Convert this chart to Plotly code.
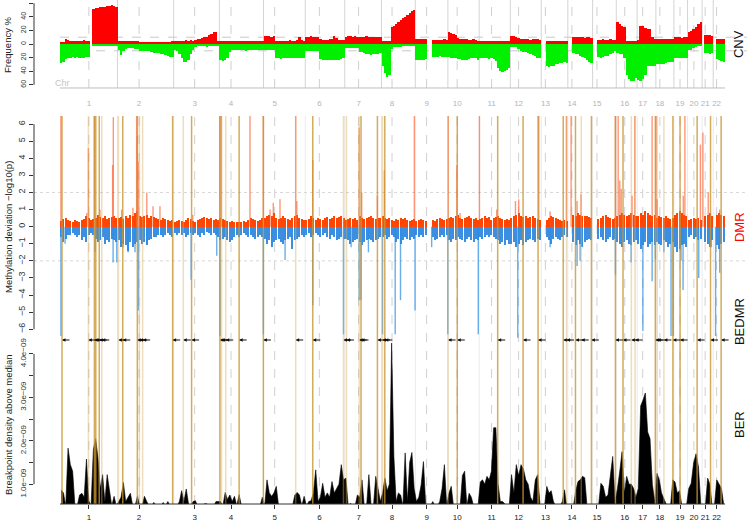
import plotly.graph_objects as go

chroms = [str(i) for i in range(1, 23)]
chrom_len = [249.25, 243.2, 198.0, 191.15, 180.9, 171.1, 159.1, 146.4, 141.2, 135.5, 135.0,
             133.9, 115.2, 107.3, 102.5, 90.4, 81.2, 78.1, 59.1, 63.0, 48.1, 51.3]
centromere = [125.0, 93.3, 91.0, 50.4, 48.4, 61.0, 59.9, 45.6, 49.0, 40.2, 53.7,
              35.8, 17.9, 17.6, 19.0, 36.6, 24.0, 17.2, 26.5, 27.5, 13.2, 14.7]

# CNV frequency (%) per ~10 Mb bin, one list per chromosome
cnv_gain = [
    [3, 3, 8, 6, 5, 5, 5, 4, 5, 5, 6, 5, 4, None, 52, 53, 53, 54, 55, 55, 56, 56, 57, 56, 55],
    [5, 5, 5, 5, 5, 4, 5, 5, 4, 3, 2, 2, 3, 2, 2, 3, 2, 3, 2, 2, 3, 3, 3, 4],
    [5, 5, 5, 4, 5, 6, 5, 6, 5, 6, 7, 8, 9, 10, 11, 13, 15, 17, 18, 5],
    [4, 4, 4, 4, 5, 4, 4, 4, 4, 4, 4, 4, 4, 4, 4, 4, 5, 4, 4],
    [12, 12, 12, 11, 12, 5, 5, 5, 5, 5, 5, 6, 5, 5, 6, 10, 6, 5],
    [11, 11, 12, 11, 10, 11, 8, 6, 6, 6, 7, 8, 12, 9, 6, 6, 6],
    [11, 12, 12, 11, 12, 11, 10, 11, 11, 12, 11, 11, 10, 11, 10, 10],
    [4, 4, 4, 4, 25, 27, 30, 33, 35, 38, 40, 43, 46, 48, 50],
    [7, 7, 7, 7, 7, None, None, 6, 6, 6, 6, 6, 7, 6],
    [17, 16, 15, 13, 9, 8, 7, 7, 7, 6, 6, 7, 6, 5],
    [4, 4, 4, 5, 5, 4, 5, 4, 5, 5, 5, 5, 5, 5],
    [12, 12, 11, 9, 7, 7, 7, 7, 6, 7, 7, 7, 6],
    [None, None, 4, 4, 4, 4, 4, 5, 4, 4, 4, 4],
    [None, None, 10, 10, 11, 10, 10, 9, 10, 10, 9],
    [None, None, 6, 6, 7, 6, 6, 7, 6, 6],
    [33, 30, 27, 25, 4, 4, 4, 4, 4],
    [6, 26, 26, 24, 22, 22, 10, 8],
    [8, 8, 8, 8, 8, 8, 7, 8],
    [10, 10, 10, 9, 10, 10],
    [17, 19, 22, 25, 29, 33],
    [None, 13, 13, 13, 12],
    [None, 8, 8, 8, 8],
]
cnv_loss = [
    [28, 27, 22, 20, 20, 19, 20, 19, 20, 21, 20, 19, 19, None, 2, 2, 2, 2, 2, 2, 2, 2, 2, 2, 2],
    [9, 16, 10, 7, 6, 6, 6, 7, 8, 10, 10, 10, 11, 10, 12, 13, 13, 13, 14, 15, 16, 18, 19, 19],
    [9, 10, 14, 20, 26, 27, 24, 15, 9, 4, 3, 3, 3, 3, 4, 3, 3, 3, 3, 3],
    [24, 25, 24, 20, 12, 9, 9, 9, 9, 9, 9, 10, 9, 9, 9, 9, 9, 9, 9],
    [9, 9, 9, 9, 9, 21, 21, 22, 21, 21, 21, 20, 21, 21, 21, 21, 21, 20],
    [11, 11, 11, 11, 11, 11, 22, 24, 24, 24, 24, 23, 24, 24, 23, 22, 20],
    [6, 6, 6, 6, 6, 6, 12, 12, 13, 14, 15, 16, 15, 14, 14, 13],
    [32, 42, 48, 45, 8, 4, 4, 4, 4, 3, 3, 3, 3, 3, 3],
    [24, 24, 23, 24, 22, None, None, 19, 19, 19, 18, 19, 19, 19],
    [19, 20, 20, 21, 22, 22, 23, 24, 23, 22, 21, 20, 20, 24],
    [20, 21, 21, 21, 22, 21, 22, 25, 35, 40, 41, 40, 38, 36],
    [4, 4, 5, 8, 11, 12, 12, 13, 14, 16, 18, 20, 21],
    [None, None, 33, 34, 33, 32, 30, 29, 28, 28, 27, 28],
    [None, None, 13, 14, 15, 17, 19, 21, 24, 26, 28],
    [None, None, 19, 20, 19, 18, 17, 15, 13, 11],
    [13, 14, 14, 20, 45, 52, 55, 54, 50],
    [53, 54, 52, 45, 33, 33, 32, 33],
    [30, 30, 29, 30, 28, 27, 26, 26],
    [21, 21, 21, 20, 21, 21],
    [9, 9, 6, 4, 3, 3],
    [None, 13, 13, 14, 13],
    [None, 22, 24, 25, 26],
]

# methylation deviation background level per bin (-log10 p)
dmr_hyper = [
    [0.35, 0.45, 0.5, 0.4, 0.35, 0.3, 0.4, 0.35, 0.3, 0.4, 0.45, 0.6, 0.5, 0.4, 0.45, 0.5, 0.7, 0.55, 0.5, 0.6, 0.45, 0.5, 0.55, 0.6, 0.5],
    [0.5, 0.55, 0.45, 0.6, 0.5, 0.7, 0.6, 0.8, 0.9, 0.6, 0.55, 0.6, 0.7, 0.5, 0.6, 0.55, 0.5, 0.45, 0.4, 0.5, 0.45, 0.4, 0.35, 0.4],
    [0.3, 0.35, 0.4, 0.35, 0.3, 0.4, 0.5, 0.45, 0.35, 0.3, 0.4, 0.45, 0.5, 0.55, 0.5, 0.45, 0.5, 0.4, 0.45, 0.4],
    [0.5, 0.45, 0.4, 0.35, 0.3, 0.35, 0.3, 0.25, 0.3, 0.3, 0.35, 0.3, 0.4, 0.5, 0.45, 0.4, 0.35, 0.4, 0.5],
    [0.5, 0.6, 0.7, 0.6, 0.8, 0.5, 0.45, 0.5, 0.6, 0.5, 0.45, 0.4, 0.5, 0.6, 0.7, 0.5, 0.45, 0.4],
    [0.4, 0.45, 0.6, 0.5, 0.4, 0.5, 0.45, 0.4, 0.5, 0.55, 0.45, 0.5, 0.6, 0.5, 0.55, 0.6, 0.5],
    [0.4, 0.45, 0.5, 0.45, 0.5, 0.4, 0.6, 0.5, 0.45, 0.5, 0.55, 0.6, 0.5, 0.45, 0.5, 0.5],
    [0.6, 0.5, 0.45, 0.5, 0.4, 0.35, 0.45, 0.4, 0.5, 0.45, 0.5, 0.4, 0.35, 0.4, 0.45],
    [0.35, 0.4, 0.45, 0.4, 0.35, None, None, 0.4, 0.35, 0.45, 0.5, 0.45, 0.4, 0.45],
    [0.5, 0.55, 0.5, 0.6, 0.7, 0.5, 0.45, 0.5, 0.55, 0.6, 0.5, 0.45, 0.5, 0.4],
    [0.45, 0.5, 0.6, 0.5, 0.55, 0.4, 0.5, 0.55, 0.6, 0.5, 0.45, 0.4, 0.45, 0.4],
    [0.5, 0.6, 0.7, 0.8, 0.6, 0.55, 0.6, 0.5, 0.55, 0.6, 0.5, 0.45, 0.4],
    [None, None, 0.4, 0.5, 0.6, 0.55, 0.5, 0.45, 0.4, 0.35, 0.4, 0.35],
    [None, None, 0.7, 0.6, 0.8, 0.7, 0.6, 0.65, 0.6, 0.55, 0.5],
    [None, None, 0.45, 0.5, 0.6, 0.7, 0.55, 0.5, 0.45, 0.5],
    [0.6, 0.7, 0.8, 0.7, 0.6, 0.7, 0.8, 0.7, 0.6],
    [0.6, 0.8, 0.7, 0.9, 0.8, 0.7, 0.6, 0.7],
    [0.5, 0.6, 0.55, 0.5, 0.6, 0.5, 0.45, 0.5],
    [0.7, 0.8, 0.9, 0.8, 0.7, 0.6],
    [0.4, 0.45, 0.5, 0.45, 0.5, 0.4],
    [None, 0.6, 0.7, 0.8, 0.6],
    [None, 0.7, 0.8, 0.7, 0.6],
]
dmr_hypo = [
    [-0.6, -0.9, -0.7, -0.5, -0.5, -0.4, -0.5, -0.6, -0.5, -0.8, -0.6, -0.9, -0.5, -0.4, -0.5, -0.7, -0.9, -0.8, -0.6, -1.0, -0.8, -0.9, -0.7, -0.8, -0.9],
    [-0.8, -1.2, -1.0, -1.1, -1.4, -0.9, -1.2, -1.0, -0.9, -0.8, -1.0, -0.9, -1.1, -0.8, -0.7, -0.6, -0.6, -0.5, -0.5, -0.6, -0.5, -0.4, -0.5, -0.6],
    [-0.4, -0.5, -0.4, -0.5, -0.4, -0.6, -0.5, -0.4, -0.5, -0.4, -0.5, -0.6, -0.4, -0.5, -0.3, -0.4, -0.5, -0.4, -0.5, -0.6],
    [-0.8, -0.7, -0.6, -0.8, -0.9, -0.8, -0.6, -0.5, -0.6, -0.5, -0.4, -0.5, -0.6, -0.5, -0.6, -0.7, -0.6, -0.5, -0.6],
    [-0.7, -1.0, -0.8, -1.2, -0.9, -0.8, -0.7, -0.9, -1.0, -0.8, -0.7, -0.6, -1.3, -0.8, -0.7, -0.6, -0.5, -0.6],
    [-0.5, -0.4, -0.6, -0.5, -0.4, -0.5, -0.6, -0.5, -0.4, -0.6, -0.7, -0.5, -0.6, -0.8, -0.7, -0.6, -0.7],
    [-0.7, -0.8, -1.0, -0.9, -0.8, -0.7, -0.9, -1.1, -0.9, -0.8, -0.7, -0.8, -0.9, -0.8, -0.7, -0.6],
    [-0.6, -0.5, -0.7, -0.6, -0.5, -0.6, -0.9, -0.7, -1.0, -0.8, -0.6, -0.7, -0.8, -0.6, -0.7],
    [-0.5, -0.6, -0.5, -0.6, -0.5, None, None, -0.6, -0.8, -0.7, -0.6, -0.5, -0.6, -0.5],
    [-0.8, -0.9, -0.7, -0.8, -0.6, -0.7, -0.8, -0.9, -0.7, -0.6, -0.8, -0.9, -0.7, -0.8],
    [-0.6, -0.7, -0.6, -0.5, -0.6, -0.5, -0.6, -0.7, -0.8, -1.0, -0.9, -1.1, -0.8, -1.0],
    [-1.0, -0.9, -1.2, -1.0, -0.8, -1.1, -0.9, -0.8, -0.7, -0.8, -0.9, -0.7, -0.8],
    [None, None, -0.6, -0.8, -1.0, -0.7, -0.6, -0.7, -0.8, -0.6, -0.5, -0.6],
    [None, None, -0.9, -1.1, -0.8, -1.0, -1.2, -0.9, -0.8, -0.7, -0.8],
    [None, None, -0.7, -0.6, -0.8, -0.9, -0.7, -0.6, -0.8, -0.7],
    [-0.9, -1.0, -1.2, -0.9, -0.8, -1.0, -1.1, -0.9, -0.8],
    [-1.0, -1.3, -1.1, -0.9, -1.2, -1.0, -0.9, -1.1],
    [-0.9, -1.0, -1.1, -0.8, -0.9, -1.2, -1.0, -0.9],
    [-1.2, -1.5, -1.3, -1.1, -1.0, -1.2],
    [-0.6, -0.5, -0.7, -0.6, -0.8, -0.7],
    [None, -0.9, -1.0, -1.2, -0.8],
    [None, -1.1, -1.3, -1.0, -0.9],
]

# single strong DMR probes: genome position (Mb) and -log10 p
hyper_pos = [4, 116, 123, 149, 173, 228, 231, 267, 316, 332, 335, 339, 376, 403, 433, 575, 693, 699,
             823, 881, 910, 924, 953, 1021, 1026, 1095, 1296, 1307, 1375, 1405, 1535, 1682, 1719, 1733,
             1817, 1892, 1973, 1987, 2074, 2123, 2194, 2214, 2240, 2257, 2406, 2418, 2425, 2431, 2478,
             2490, 2565, 2582, 2587, 2700, 2707, 2774, 2785, 2808, 2858]
hyper_val = [6.5, 0.8, 4.6, 6.5, 1.0, 3.6, 6.4, 1.0, 1.1, 6.5, 5.3, 3.8, 2.0, 1.2, 1.2, 0.7, 6.5, 6.5,
             6.5, 6.5, 1.0, 1.4, 1.6, 6.5, 1.5, 3.9, 5.8, 2.0, 1.8, 3.3, 6.5, 6.5, 3.6, 0.8,
             6.5, 1.0, 1.5, 1.6, 6.5, 0.9, 6.5, 6.5, 1.5, 1.9, 6.5, 6.5, 2.7, 2.2, 1.8,
             6.5, 6.5, 6.5, 1.6, 1.8, 6.5, 4.8, 5.5, 2.0, 1.0]
hypo_pos = [4, 22, 152, 230, 246, 273, 295, 325, 339, 376, 568, 679, 693, 881, 917, 975, 1095, 1228,
            1261, 1296, 1304, 1336, 1397, 1452, 1475, 1538, 1610, 1680, 1812, 1983, 2006, 2123, 2240,
            2253, 2406, 2474, 2525, 2565, 2579, 2616, 2647, 2656, 2690, 2699, 2767, 2821, 2840, 2858]
hypo_val = [-6.4, -1.0, -1.5, -2.1, -2.1, -1.2, -1.5, -1.5, -4.9, -1.0, -3.1, -1.7, -6.4, -6.3, -1.2, -1.95, -4.6, -6.3,
            -1.2, -4.3, -4.3, -1.5, -6.3, -6.3, -4.3, -4.9, -1.2, -6.3, -6.3, -6.5, -1.1, -1.2, -2.3,
            -2.0, -2.8, -2.1, -6.1, -3.2, -1.9, -1.5, -6.4, -6.4, -2.0, -3.7, -3.0, -1.2, -6.4, -2.7]

# breakpoint-enriched DMR regions (Mb) and whether the line is a strong one
bedmr_pos = [8.7, 123, 149, 155, 170, 181, 253, 272, 335, 344, 358, 488, 534, 570, 693, 700, 718, 776,
             881, 1021, 1095, 1228, 1241, 1296, 1304, 1375, 1397, 1407, 1681, 1721, 1896, 2006, 2071,
             2180, 2194, 2233, 2258, 2302, 2406, 2439, 2475, 2491, 2579, 2587, 2616, 2655, 2686, 2760,
             2818, 2864]
bedmr_strong = [1, 0, 1, 1, 1, 0, 0, 1, 1, 0, 0, 1, 0, 1, 1, 0, 0, 1,
                1, 0, 1, 0, 0, 0, 1, 1, 0, 1, 0, 1, 1, 1, 1,
                1, 0, 1, 0, 1, 1, 1, 0, 0, 1, 0, 0, 1, 1, 1,
                1, 1]

# breakpoint density (x 1e-9) per bin
ber_density = [
    [0.87, 0.8, 0.5, 1.83, 1.45, 1.3, 0.5, 0.5, 0.75, 0.79, 0.7, 1.58, 0.62, 0.5, 1.8, 2.05, 1.6, 0.9, 1.22, 0.6, 1.22, 0.8, 0.5, 0.72, 0.5],
    [0.6, 0.7, 1.04, 0.6, 0.7, 0.79, 0.5, 0.5, 0.72, 0.5, 0.5, 0.72, 0.6, 0.5, 0.5, 0.58, 0.5, 0.5, 0.5, 0.58, 0.5, 0.6, 0.5, 0.5],
    [0.5, 0.5, 0.6, 0.85, 0.6, 0.89, 0.55, 0.5, 0.6, 0.62, 0.5, 0.5, 0.5, 0.55, 0.55, 0.5, 0.5, 0.5, 0.6, 0.6],
    [0.6, 0.5, 0.81, 0.65, 0.75, 0.6, 0.72, 0.5, 0.76, 0.5, 0.5, 0.5, 0.5, 0.5, 0.5, 0.5, 0.5, 0.5, 0.7],
    [0.5, 1.1, 0.8, 0.72, 0.8, 0.95, 0.5, 0.5, 0.5, 0.5, 0.5, 0.5, 0.5, 0.75, 0.81, 0.75, 0.5, 0.72],
    [0.5, 0.6, 0.62, 0.8, 1.33, 0.6, 0.7, 1.02, 0.7, 0.8, 0.7, 1.06, 0.8, 0.9, 1.0, 1.45, 1.1],
    [1.14, 0.5, 0.56, 0.5, 0.5, 0.75, 0.7, 1.1, 0.5, 0.5, 1.22, 0.5, 0.5, 1.18, 0.9, 0.6],
    [0.8, 1.14, 0.85, 1.0, 4.25, 1.64, 0.6, 0.8, 0.75, 0.5, 1.72, 0.6, 1.5, 1.73, 0.9],
    [0.6, 0.7, 0.98, 1.52, 0.5, 0.5, 0.5, 0.6, 0.5, 0.5, 0.6, 0.9, 1.45, 0.5],
    [0.8, 0.95, 0.5, 0.5, 0.5, 0.5, 1.2, 1.3, 0.5, 0.79, 0.7, 0.5, 0.5, 0.5],
    [1.05, 1.1, 1.0, 1.18, 1.1, 1.3, 2.3, 2.3, 1.0, 0.6, 0.6, 0.55, 0.5, 0.5],
    [1.22, 0.8, 1.45, 1.2, 1.45, 1.35, 1.1, 1.0, 0.7, 0.6, 1.1, 1.22, 0.5],
    [0.5, 0.5, 0.95, 0.8, 0.85, 0.6, 0.5, 0.5, 0.5, 0.6, 0.87, 0.5],
    [0.5, 0.5, 0.5, 0.85, 1.06, 1.1, 1.18, 1.15, 0.5, 0.5, 0.5],
    [0.5, 0.5, 0.5, 1.02, 0.95, 0.7, 0.75, 1.2, 1.64, 0.6],
    [0.9, 1.3, 1.75, 0.8, 1.18, 1.0, 1.0, 0.9, 0.7],
    [0.9, 2.8, 2.94, 3.1, 2.2, 2.05, 1.0, 0.6],
    [1.25, 1.1, 0.8, 0.65, 0.55, 0.5, 0.5, 1.1],
    [1.05, 0.8, 0.85, 0.5, 0.5, 0.5],
    [0.9, 1.02, 1.49, 1.7, 1.4, 0.5],
    [0.5, 0.5, 1.14, 1.0, 0.5],
    [0.5, 1.1, 1.0, 0.9, 0.5],
]

# genome coordinates
offsets = []
acc = 0
for L in chrom_len:
    offsets.append(acc)
    acc += L
genome_end = acc
cen_pos = [o + c for o, c in zip(offsets, centromere)]
bounds = offsets[1:]


def binned(series, sign=1):
    xs, ys, ws = [], [], []
    for i, vals in enumerate(series):
        w = chrom_len[i] / len(vals)
        for k, v in enumerate(vals):
            xs.append(offsets[i] + (k + 0.5) * w)
            ys.append(None if v is None else sign * v)
            ws.append(w)
    return xs, ys, ws


def spikes(pos, val):
    xs, ys = [], []
    for p, v in zip(pos, val):
        xs += [p, p, None]
        ys += [0, v, None]
    return xs, ys


fig = go.Figure()

# CNV panel
gx, gy, gw = binned(cnv_gain)
lx, ly, lw = binned(cnv_loss, -1)
fig.add_trace(go.Bar(x=gx, y=gy, width=gw, marker_color="#FF0000", marker_line_width=0,
                     xaxis="x2", yaxis="y"))
fig.add_trace(go.Bar(x=lx, y=ly, width=lw, marker_color="#00F000", marker_line_width=0,
                     xaxis="x2", yaxis="y"))

# DMR panel
hx, hy, hw = binned(dmr_hyper)
ox, oy, ow = binned(dmr_hypo)
fig.add_trace(go.Bar(x=hx, y=hy, width=[w * 0.5 for w in hw], marker_color="#FF4500",
                     marker_line_width=0, xaxis="x", yaxis="y2"))
fig.add_trace(go.Bar(x=ox, y=oy, width=[w * 0.5 for w in ow], marker_color="#3C8FE0",
                     marker_line_width=0, xaxis="x", yaxis="y2"))
sx, sy = spikes(hyper_pos, hyper_val)
fig.add_trace(go.Scatter(x=sx, y=sy, mode="lines", line=dict(color="rgba(255,80,30,0.6)", width=1.4),
                         xaxis="x", yaxis="y2"))
sx, sy = spikes(hypo_pos, hypo_val)
fig.add_trace(go.Scatter(x=sx, y=sy, mode="lines", line=dict(color="rgba(40,140,230,0.7)", width=1.4),
                         xaxis="x", yaxis="y2"))

# BER panel
bx, by, bw = binned(ber_density)
fig.add_trace(go.Scatter(x=bx, y=by, mode="lines", line=dict(color="black", width=0.6),
                         fill="tozeroy", fillcolor="black", xaxis="x", yaxis="y3"))

shapes = []
# CNV grid
for b in bounds:
    shapes.append(dict(type="line", xref="x2", yref="y domain", x0=b, x1=b, y0=0, y1=1,
                       line=dict(color="#D4D4D4", width=1), layer="below"))
for c in cen_pos:
    shapes.append(dict(type="line", xref="x2", yref="y domain", x0=c, x1=c, y0=0, y1=1,
                       line=dict(color="#CFCFCF", width=1, dash="dash"), layer="below"))
for h in (-10, 10):
    shapes.append(dict(type="line", xref="x2", yref="y", x0=0, x1=2976, y0=h, y1=h,
                       line=dict(color="#C8C8C8", width=1, dash="dash"), layer="below"))
# lower panels grid
for b in bounds:
    shapes.append(dict(type="line", xref="x", yref="paper", x0=b, x1=b, y0=0, y1=0.7698,
                       line=dict(color="#EAEAEA", width=1), layer="below"))
for c in cen_pos:
    shapes.append(dict(type="line", xref="x", yref="paper", x0=c, x1=c, y0=0, y1=0.7698,
                       line=dict(color="#D0D0D0", width=1, dash="dash"), layer="below"))
for h in (-2, 2):
    shapes.append(dict(type="line", xref="x domain", yref="y2", x0=0, x1=1, y0=h, y1=h,
                       line=dict(color="#D6D6D6", width=1, dash="dot"), layer="below"))
# BEDMR lines
for p, s in zip(bedmr_pos, bedmr_strong):
    col = "rgba(200,150,50,0.8)" if s else "rgba(215,175,95,0.42)"
    shapes.append(dict(type="line", xref="x", yref="paper", x0=p, x1=p, y0=0, y1=0.7698,
                       line=dict(color=col, width=1.5)))
# R-style axis lines
shapes.append(dict(type="line", xref="x2", yref="y domain", x0=0, x1=genome_end, y0=0, y1=0,
                   line=dict(color="#BDBDBD", width=1)))
shapes.append(dict(type="line", xref="x", yref="y3 domain", x0=0, x1=genome_end, y0=0, y1=0,
                   line=dict(color="#333333", width=1)))
shapes.append(dict(type="line", xref="x domain", yref="y", x0=0, x1=0, y0=-60, y1=60,
                   line=dict(color="#333333", width=1)))
shapes.append(dict(type="line", xref="x domain", yref="y2", x0=0, x1=0, y0=-6, y1=6,
                   line=dict(color="#333333", width=1)))
shapes.append(dict(type="line", xref="x domain", yref="y3", x0=0, x1=0, y0=1, y1=4,
                   line=dict(color="#333333", width=1)))

annotations = []
for p in bedmr_pos:
    annotations.append(dict(x=p, y=0.3254, xref="x", yref="paper", text="", showarrow=True,
                            ax=9, ay=0, arrowhead=2, arrowsize=0.7, arrowwidth=1, arrowcolor="#111"))

font = "Liberation Sans, Arial, sans-serif"
side_labels = [("CNV", 0.9127, "#111"), ("DMR", 0.5496, "#FF0000"),
               ("BEDMR", 0.361, "#111"), ("BER", 0.1567, "#111")]
for txt, yy, col in side_labels:
    annotations.append(dict(x=0.9888, y=yy, xref="paper", yref="paper", text=txt, showarrow=False,
                            xanchor="center", yanchor="middle",
                            textangle=-90, font=dict(size=13, color=col, family=font)))
axis_titles = [("Frequency %", 0.9127), ("Methylation deviation \u2212log10(p)", 0.5496),
               ("Breakpoint density above median", 0.1567)]
for txt, yy in axis_titles:
    annotations.append(dict(x=-0.0365, y=yy, xref="paper", yref="paper", text=txt, showarrow=False,
                            xanchor="center", yanchor="middle",
                            textangle=-90, font=dict(size=9.5, color="#222", family=font)))
annotations.append(dict(x=11, y=-57, xref="x2", yref="y", text="Chr", showarrow=False,
                        font=dict(size=9, color="#C4C4C4", family=font)))

cnv_ticks = [-60, -40, -20, 0, 20, 40, 60]
dmr_ticks = [-6, -5, -4, -3, -2, -1, 0, 1, 2, 3, 4, 5, 6]
ber_ticks = [1, 1.5, 2, 2.5, 3, 3.5, 4]
ber_text = ["1.0e\u221209", "", "2.0e\u221209", "", "3.0e\u221209", "", "4.0e\u221209"]

fig.update_layout(
    width=747, height=522,
    margin=dict(l=34, r=0, t=0, b=18),
    paper_bgcolor="white", plot_bgcolor="white",
    showlegend=False, barmode="overlay", bargap=0,
    font=dict(family=font, color="#222"),
    shapes=shapes, annotations=annotations,
    xaxis=dict(domain=[0, 1], range=[-112.6, 2976], anchor="y3", automargin=False,
               tickvals=cen_pos, ticktext=chroms, ticks="outside", ticklen=4, tickangle=0,
               tickcolor="#333", tickfont=dict(size=8, color="#222"),
               showgrid=False, zeroline=False, showline=False, ticklabelstandoff=1),
    xaxis2=dict(domain=[0, 1], range=[-112.6, 2976], anchor="y", automargin=False,
                tickvals=cen_pos, ticktext=chroms, ticks="", tickangle=0,
                tickfont=dict(size=8, color="#B4B4B4"),
                showgrid=False, zeroline=False, showline=False, ticklabelstandoff=9),
    yaxis=dict(domain=[0.8254, 1], range=[-64.7, 64.7], anchor="x2", automargin=False,
               tickvals=cnv_ticks, ticktext=[str(abs(t)) for t in cnv_ticks],
               tickangle=-90, ticks="outside", ticklen=4, tickcolor="#333",
               tickfont=dict(size=7, color="#333"), showgrid=False, zeroline=False),
    yaxis2=dict(domain=[0.3274, 0.7698], range=[-6.57, 6.47], anchor="x", automargin=False,
                tickvals=dmr_ticks, ticktext=[str(t).replace("-", "\u2212") for t in dmr_ticks],
                tickangle=-90, ticks="outside", ticklen=4, tickcolor="#333",
                tickfont=dict(size=9, color="#333"), showgrid=False, zeroline=False),
    yaxis3=dict(domain=[0, 0.3194], range=[0.544, 4.25], anchor="x", automargin=False,
                tickvals=ber_ticks, ticktext=ber_text,
                tickangle=-90, ticks="outside", ticklen=4, tickcolor="#333",
                tickfont=dict(size=8, color="#333"), showgrid=False, zeroline=False),
)

fig.write_html("out.html", config={"displayModeBar": False},
               post_script="document.body.style.margin='0';")
